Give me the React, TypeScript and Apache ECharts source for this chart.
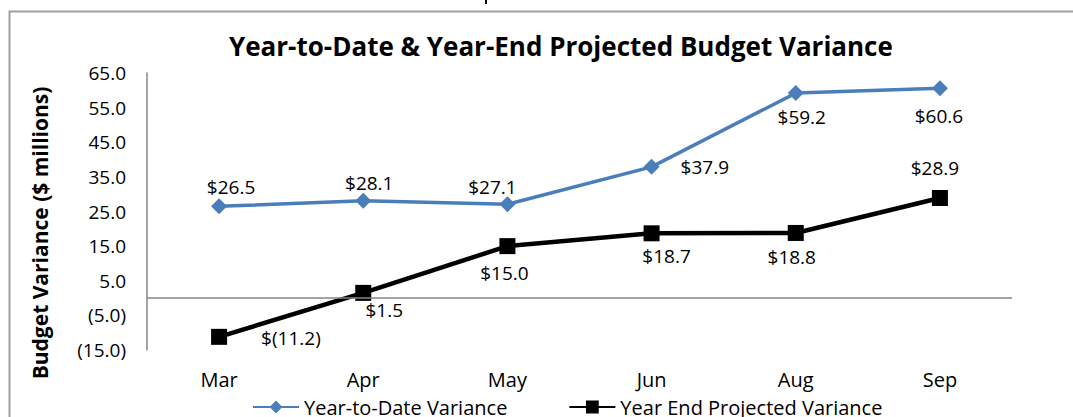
import React, { useEffect, useRef } from "react";
import * as echarts from "echarts";

const categories = ["Mar", "Apr", "May", "Jun", "Aug", "Sep"];
const ytdValues = [26.5, 28.1, 27.1, 37.9, 59.2, 60.6];
const yearEndValues = [-11.2, 1.5, 15.0, 18.7, 18.8, 28.9];
const seriesNames = ["Year-to-Date Variance", "Year End Projected Variance"];
const titleText = "Year-to-Date & Year-End Projected Budget Variance";
const yAxisTitle = "Budget Variance ($ millions)";

const FONT = "'Open Sans', 'Noto Sans', sans-serif";

const fmtMoney = (v: number) => (v < 0 ? `$(${Math.abs(v).toFixed(1)})` : `$${v.toFixed(1)}`);
const fmtAxis = (v: number) => (v < 0 ? `(${Math.abs(v).toFixed(1)})` : v.toFixed(1));

// label placement per point (position, offset)
const ytdLabelPos: any[] = [
  { position: "top", offset: [12, 0] },
  { position: "top", offset: [6, 2] },
  { position: "top", offset: [-15, 2] },
  { position: "right", offset: [19, 0] },
  { position: "bottom", offset: [6, 4] },
  { position: "bottom", offset: [-1, 8] },
];
const yeLabelPos: any[] = [
  { position: "right", offset: [32, 1] },
  { position: "bottom", offset: [21, -2] },
  { position: "bottom", offset: [-3, 7] },
  { position: "bottom", offset: [15, 3] },
  { position: "bottom", offset: [-4, 5] },
  { position: "top", offset: [-5, -10] },
];

export default function App() {
  const ref = useRef<HTMLDivElement>(null);
  useEffect(() => {
    if (!ref.current) return;
    const chart = echarts.init(ref.current, undefined, { renderer: "svg" });
    const labelStyle = { color: "#000", fontSize: 19, fontFamily: FONT };
    chart.setOption({
      animation: false,
      backgroundColor: "#fff",
      title: {
        text: titleText,
        left: 224,
        top: 28,
        textStyle: { fontSize: 26, fontWeight: "bold", color: "#000", fontFamily: FONT },
      },
      legend: {
        left: 247,
        top: 392,
        itemWidth: 46,
        itemHeight: 16,
        itemGap: 61,
        textStyle: { fontSize: 20, color: "#000", fontFamily: FONT },
        data: seriesNames,
      },
      grid: { left: 147, right: 61, top: 73, bottom: 67, containLabel: false },
      xAxis: {
        type: "category",
        data: categories,
        boundaryGap: true,
        axisLine: { show: false },
        axisTick: { show: false },
        axisLabel: { color: "#000", fontSize: 20, fontFamily: FONT, margin: 19 },
      },
      yAxis: {
        type: "value",
        min: -15,
        max: 65,
        interval: 10,
        axisLine: { show: true, lineStyle: { color: "#868686", width: 1.5 } },
        axisTick: { show: false },
        splitLine: { show: false },
        axisLabel: { color: "#000", fontSize: 19, fontFamily: FONT, margin: 21, formatter: fmtAxis },
      },
      series: [
        {
          name: seriesNames[0],
          type: "line",
          data: ytdValues.map((v, i) => ({ value: v, label: ytdLabelPos[i] })),
          symbol: "diamond",
          symbolSize: 16,
          lineStyle: { color: "#4a7ebb", width: 3.5 },
          itemStyle: { color: "#4a7ebb" },
          label: { show: true, formatter: (p: any) => fmtMoney(p.value), distance: 2, ...labelStyle },
          markLine: {
            silent: true,
            symbol: "none",
            label: { show: false },
            lineStyle: { color: "#868686", width: 1.5, type: "solid" },
            data: [{ yAxis: 0 }],
          },
          z: 3,
        },
        {
          name: seriesNames[1],
          type: "line",
          data: yearEndValues.map((v, i) => ({ value: v, label: yeLabelPos[i] })),
          symbol: "rect",
          symbolSize: 16,
          lineStyle: { color: "#000", width: 4.5 },
          itemStyle: { color: "#000" },
          label: { show: true, formatter: (p: any) => fmtMoney(p.value), distance: 2, ...labelStyle },
          z: 3,
        },
      ],
      graphic: [
        {
          type: "rect",
          shape: { x: 9.5, y: 11.5, width: 1100, height: 450 },
          style: { fill: "none", stroke: "#a0a0a0", lineWidth: 2 },
          silent: true,
          z: -1,
        },
        {
          type: "rect",
          shape: { x: 485, y: 0, width: 2, height: 4 },
          style: { fill: "#000" },
          silent: true,
        },
        {
          type: "text",
          x: 40,
          y: 233,
          rotation: Math.PI / 2,
          silent: true,
          style: {
            text: yAxisTitle,
            fill: "#000",
            fontSize: 21,
            fontWeight: "bold",
            fontFamily: FONT,
            align: "center",
            verticalAlign: "middle",
          },
        },
      ],
    });
    return () => chart.dispose();
  }, []);
  return (
    <div
      ref={ref}
      style={{ position: "fixed", left: 0, top: 0, width: 1073, height: 417 }}
    />
  );
}
